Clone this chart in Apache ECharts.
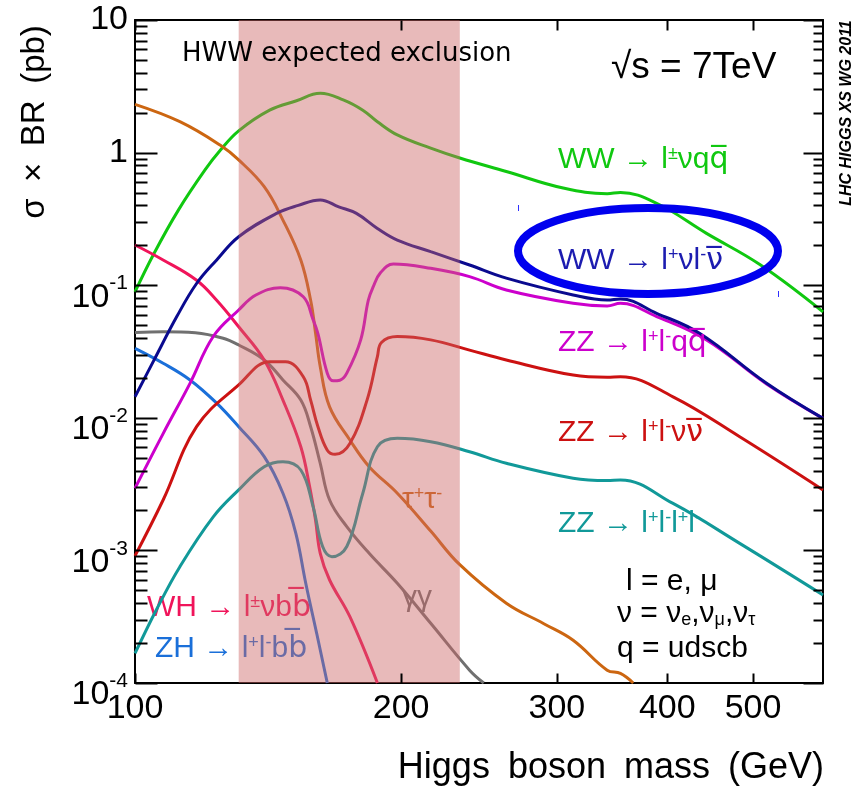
<!DOCTYPE html>
<html><head><meta charset="utf-8">
<script src="https://cdn.jsdelivr.net/npm/echarts@6/dist/echarts.min.js"></script>
<style>html,body{margin:0;padding:0;background:#fff}#c{width:857px;height:792px}</style>
</head><body><div id="c"></div>
<script>
// ---- axis ticks ----
const xTickValues = [100, 200, 300, 400, 500];
const yMajorTicks = [0.0001, 0.001, 0.01, 0.1, 1, 10];
const yMinorTicks = [0.0002,0.0003,0.0004,0.0005,0.0006,0.0007,0.0008,0.0009,
  0.002,0.003,0.004,0.005,0.006,0.007,0.008,0.009,
  0.02,0.03,0.04,0.05,0.06,0.07,0.08,0.09,
  0.2,0.3,0.4,0.5,0.6,0.7,0.8,0.9,
  2,3,4,5,6,7,8,9];
const exclusionBand = [131, 233];

// ---- series (Higgs mass GeV, sigma x BR pb) ----
const massWWlvqq = [100,105,112,120,125,131,142,152,162,172,181,188,198,216,233,263,305,342,354,389,443,510,600];
const xsWWlvqq   = [0.089,0.172,0.37,0.74,1.05,1.46,2.09,2.45,2.80,2.50,2.09,1.71,1.36,1.08,0.91,0.72,0.54,0.49,0.50,0.415,0.246,0.142,0.063];

const massTauTau = [100,112.4,124.8,131,140,147,154,158,160,162,166,175,184,198,216,233,263,290,313,342,354,366];
const xsTauTau   = [2.31,1.71,1.14,0.88,0.553,0.31,0.155,0.077,0.044,0.0243,0.0121,0.0068,0.00428,0.0027,0.0014,0.00078,0.0004,0.00028,0.00021,0.000125,0.000118,0.0001];

const massWWlvlv = [100,105,111.5,117.4,123.7,131,144.6,153,162,170,178,188,198,216,239,263,313,342,354,389,435,518,600];
const xsWWlvlv   = [0.0144,0.027,0.058,0.103,0.155,0.232,0.348,0.40,0.44,0.39,0.348,0.268,0.219,0.179,0.142,0.113,0.0844,0.0773,0.0787,0.0614,0.0434,0.0182,0.0099];

const massZZllqq = [100,107.6,115.4,122.6,131,137,146,155,159,161,165,167.6,170.5,173.6,180,183.6,186,189.5,196,216,239,263,313,342,354,389,443,518,600];
const xsZZllqq   = [0.00294,0.0076,0.0182,0.041,0.065,0.0843,0.0957,0.0818,0.055,0.0433,0.0217,0.019,0.0192,0.0217,0.0387,0.077,0.0975,0.124,0.1445,0.134,0.116,0.092,0.073,0.0697,0.073,0.058,0.0387,0.018,0.0099];

const massZZllvv = [100,107.6,117.4,131,142,148,155,158,161,165,168.4,175,183,188,190,198,216,239,263,313,342,354,406,483,600];
const xsZZllvv   = [0.00091,0.0024,0.00857,0.0177,0.0265,0.0265,0.0204,0.0136,0.0086,0.0057,0.0053,0.0064,0.0136,0.0289,0.037,0.041,0.0387,0.0324,0.0273,0.021,0.0202,0.0204,0.0144,0.0072,0.00286];

const massZZ4l = [100,105.8,112.4,122.6,131,140,147,154,159,163,167,173.6,181,188,198,216,239,263,313,342,354,406,483,600];
const xsZZ4l   = [0.000167,0.00036,0.000754,0.00179,0.00286,0.00428,0.00467,0.00404,0.00214,0.00107,0.000897,0.00107,0.0027,0.00605,0.0070,0.0066,0.00555,0.00454,0.0035,0.00336,0.0034,0.00226,0.00113,0.000461];

const massGamGam = [100,107.6,117,125.8,131,140,147,154,158,162,166,173.6,184,198,216,239,248];
const xsGamGam   = [0.0439,0.0446,0.0438,0.0398,0.0354,0.0273,0.0193,0.0136,0.00857,0.00454,0.0024,0.00151,0.00095,0.000565,0.000282,0.000125,0.0001];

const massWHlvbb = [100,107.6,117.4,123.7,131,140,147,154,157.6,160,162,166,175,188];
const xsWHlvbb   = [0.201,0.155,0.109,0.077,0.0486,0.0273,0.0136,0.00605,0.00302,0.0017,0.00095,0.000598,0.000316,0.0001];

const massZHllbb = [100,107.6,115.4,123.7,131,140,147,152,156,160.5,165];
const xsZHllbb   = [0.0334,0.0258,0.0193,0.0129,0.00857,0.00509,0.0027,0.00135,0.000565,0.000237,0.0001];

const FONT = 'Liberation Sans';
const X_MIN = 100, X_MAX = 600, Y_MIN = 0.0001, Y_MAX = 10;
const GRID = { left: 135, right: 34, top: 20, bottom: 109 };
function pairs(m, v) { return m.map((x, i) => [x, v[i]]); }
function curve(name, m, v, color) {
  return { name, type: 'line', data: pairs(m, v), showSymbol: false, smooth: 0.4, clip: true,
    lineStyle: { color, width: 3 }, itemStyle: { color }, silent: true, z: 2 };
}
function yLabel(v) {
  const e = Math.round(Math.log10(v));
  if (e === 1) return '{b|10}';
  if (e === 0) return '{b|1}';
  return '{b2|10}{s|' + e + '}';
}
const logY = (pos, showLabel) => ({
  type: 'log', logBase: 10, min: Y_MIN, max: Y_MAX, position: pos,
  axisLine: { show: true, lineStyle: { color: '#000', width: 2 } },
  splitLine: { show: false }, axisTick: { show: false },
  axisLabel: showLabel ? {
    show: true, showMinLabel: true, showMaxLabel: true, margin: 7, formatter: yLabel, color: '#000',
    rich: {
      b: { fontSize: 34, fontFamily: FONT, color: '#000' },
      b2: { fontSize: 34, fontFamily: FONT, color: '#000', verticalAlign: 'bottom' },
      s: { fontSize: 21, fontFamily: FONT, color: '#000', verticalAlign: 'top', padding: [17, 0, 20, 0] }
    }
  } : { show: false }
});
const logX = (pos) => ({
  type: 'log', logBase: 10, min: X_MIN, max: X_MAX, position: pos,
  axisLine: { show: true, lineStyle: { color: '#000', width: 2 } },
  splitLine: { show: false }, axisTick: { show: false }, axisLabel: { show: false }
});

const richBase = (size) => ({
  t: { fontSize: size, fontFamily: FONT },
  s: { fontSize: Math.round(size * 0.6), fontFamily: FONT, verticalAlign: 'top' },
  u: { fontSize: Math.round(size * 0.6), fontFamily: FONT, verticalAlign: 'bottom' },
  o: { fontSize: size, fontFamily: 'DejaVu Sans' }
});
function label(x, y, text, color, z, size) {
  return { type: 'text', x, y, z, silent: true,
    style: { text, fill: color, font: (size || 30) + 'px "' + FONT + '"', textVerticalAlign: 'middle', textAlign: 'left', rich: richBase(size || 30) } };
}

const annotations = [
  { type: 'text', x: 182, y: 54, z: 100, silent: true,
    style: { text: 'HWW expected exclusion', fill: '#000', font: '26px "DejaVu Sans"', textVerticalAlign: 'middle' } },
  { type: 'text', x: 611, y: 68, z: 100, silent: true,
    style: { text: '√s = 7TeV', fill: '#000', font: '37px "' + FONT + '"', textVerticalAlign: 'middle' } },
  { type: 'text', x: 35, y: 122, z: 100, rotation: Math.PI / 2, silent: true,
    style: { text: 'σ\u2002×\u2002BR\u2002(pb)', fill: '#000', font: '33px "' + FONT + '"', textAlign: 'center', textVerticalAlign: 'middle' } },
  { type: 'text', x: 824, y: 768, z: 100, silent: true,
    style: { text: 'Higgs\u2002boson\u2002mass\u2002(GeV)', fill: '#000', font: '36px "' + FONT + '"', textAlign: 'right', textVerticalAlign: 'middle' } },
  { type: 'text', x: 847, y: 113, z: 100, rotation: Math.PI / 2, silent: true,
    style: { text: 'LHC HIGGS XS WG 2011', fill: '#000', font: 'italic bold 16px "' + FONT + '"', textAlign: 'center', textVerticalAlign: 'middle' } },
  { type: 'ellipse', z: 100, silent: true, shape: { cx: 648, cy: 251, rx: 130, ry: 43 },
    style: { fill: 'none', stroke: '#0000ee', lineWidth: 8 } },
  { type: 'line', z: 100, silent: true, shape: { x1: 518.5, y1: 205, x2: 518.5, y2: 211 }, style: { stroke: '#3030ff', lineWidth: 1 } },
  { type: 'line', z: 100, silent: true, shape: { x1: 778.5, y1: 291, x2: 778.5, y2: 297 }, style: { stroke: '#3030ff', lineWidth: 1 } },
  label(558, 160, '{t|WW → l}{s|±}{t|νq}{o|q\u0305}', '#10c810', 100),
  label(558, 261, '{t|WW → l}{s|+}{t|νl}{s|-}{o|ν\u0305}', '#1c1cb0', 100),
  label(558, 343, '{t|ZZ → l}{s|+}{t|l}{s|-}{t|q}{o|q\u0305}', '#cc00cc', 100),
  label(558, 433, '{t|ZZ → l}{s|+}{t|l}{s|-}{t|ν}{o|ν\u0305}', '#cc1111', 100),
  label(558, 524, '{t|ZZ → l}{s|+}{t|l}{s|-}{t|l}{s|+}{t|l}{s|-}', '#119999', 100),
  label(147, 608, '{t|WH → l}{s|±}{t|νb}{o|b\u0305}', '#f0145a', 1),
  label(155, 649, '{t|ZH → l}{s|+}{t|l}{s|-}{t|b}{o|b\u0305}', '#1a6fd9', 1),
  label(402, 500, '{t|τ}{s|+}{t|τ}{s|-}', '#cc6611', 1, 30),
  label(402, 598, '{t|γγ}', '#707070', 1, 30),
  label(626, 582, '{t|l = e, μ}', '#000', 100),
  label(617, 614, '{t|ν = ν}{u|e}{t|,ν}{u|μ}{t|,ν}{u|τ}', '#000', 100),
  label(617, 649, '{t|q = udscb}', '#000', 100)
];

const chart = echarts.init(document.getElementById('c'), null, { renderer: 'canvas' });
chart.setOption({
  animation: false,
  backgroundColor: '#fff',
  grid: Object.assign({ containLabel: false, outerBoundsMode: 'none' }, GRID),
  xAxis: [logX('bottom'), logX('top')],
  yAxis: [logY('left', true), logY('right', false)],
  series: [
    curve('WW→lνqq', massWWlvqq, xsWWlvqq, '#10c810'),
    curve('ττ', massTauTau, xsTauTau, '#cc6611'),
    curve('γγ', massGamGam, xsGamGam, '#707070'),
    curve('ZH→llbb', massZHllbb, xsZHllbb, '#1a6fd9'),
    curve('WH→lνbb', massWHlvbb, xsWHlvbb, '#f0145a'),
    curve('ZZ→4l', massZZ4l, xsZZ4l, '#119999'),
    curve('ZZ→llνν', massZZllvv, xsZZllvv, '#cc1111'),
    curve('ZZ→llqq', massZZllqq, xsZZllqq, '#cc00cc'),
    curve('WW→lνlν', massWWlvlv, xsWWlvlv, '#0a0a8f'),
    { name: 'band', type: 'line', data: [], z: 10, silent: true,
      markArea: { silent: true, z: 10, itemStyle: { color: 'rgba(204,102,102,0.45)', borderWidth: 0 },
        data: [[{ xAxis: exclusionBand[0] }, { xAxis: exclusionBand[1] }]] } }
  ],
  graphic: { elements: annotations }
});

// tick marks and x tick labels placed through the axes' scale (convertToPixel)
function px(x, y) {
  let p = null;
  try { p = chart.convertToPixel({ xAxisIndex: 0, yAxisIndex: 0 }, [x, y]); } catch (e) { p = null; }
  if (!p || !isFinite(p[0]) || !isFinite(p[1])) {
    const w = 857 - GRID.left - GRID.right, h = 792 - GRID.top - GRID.bottom;
    p = [GRID.left + w * Math.log10(x / X_MIN) / Math.log10(X_MAX / X_MIN),
         GRID.top + h * Math.log10(Y_MAX / y) / Math.log10(Y_MAX / Y_MIN)];
  }
  return [Number(p[0]), Number(p[1])];
}
function tickLine(x1, y1, x2, y2) {
  return { type: 'line', z: 100, silent: true,
    shape: { x1: Math.round(x1) + 0.5, y1: Math.round(y1) + 0.5, x2: Math.round(x2) + 0.5, y2: Math.round(y2) + 0.5 },
    style: { stroke: '#000', lineWidth: 2 } };
}
const extra = [];
yMajorTicks.concat(yMinorTicks).forEach(v => {
  const major = yMajorTicks.indexOf(v) >= 0;
  const l = px(X_MIN, v), r = px(X_MAX, v);
  extra.push(tickLine(l[0], l[1], l[0] + (major ? 22 : 12), l[1]));
  extra.push(tickLine(r[0], r[1], r[0] - (major ? 20 : 10), r[1]));
});
xTickValues.forEach(m => {
  const b = px(m, Y_MIN), t = px(m, Y_MAX);
  extra.push(tickLine(b[0], b[1], b[0], b[1] - 10));
  extra.push(tickLine(t[0], t[1], t[0], t[1] + 10));
  extra.push({ type: 'text', x: b[0], y: b[1] + 9, z: 60, silent: true,
    style: { text: String(m), fill: '#000', font: '34px "' + FONT + '"', textAlign: 'center', textVerticalAlign: 'top' } });
});
chart.setOption({ graphic: { elements: annotations.concat(extra) } });
</script></body></html>
